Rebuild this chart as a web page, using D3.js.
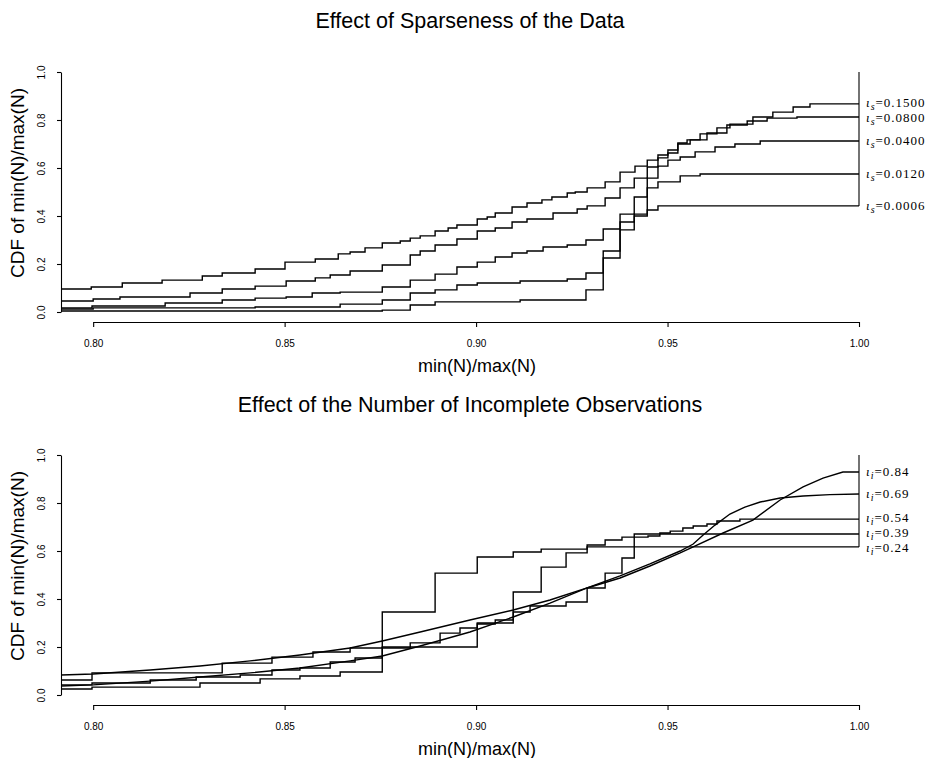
<!DOCTYPE html>
<html>
<head>
<meta charset="utf-8">
<script src="https://cdn.jsdelivr.net/npm/d3@7"></script>
<style>
  body{margin:0;background:#fff;}
  text{font-family:"Liberation Sans",Arial,Helvetica,sans-serif;fill:#000;}
  .lab{font-family:"Liberation Serif","Times New Roman",serif;}
</style>
</head>
<body>
<script>
// ticks
const xTicks=[0.80,0.85,0.90,0.95,1.00];
const yTicks=[0.0,0.2,0.4,0.6,0.8,1.0];

// painel de cima: ι_s (pares [min/max, CDF])
const sparse1500=[[0.7916,0.096],[0.7995,0.104],[0.8076,0.121],[0.8180,0.133],[0.8285,0.150],[0.8337,0.1625],[0.8423,0.179],[0.8501,0.208],[0.8580,0.221],[0.8640,0.242],[0.8671,0.25],[0.8710,0.267],[0.8755,0.2875],[0.8802,0.296],[0.8828,0.308],[0.8854,0.317],[0.8893,0.3375],[0.8927,0.35],[0.8950,0.3625],[0.9003,0.3875],[0.9029,0.396],[0.9050,0.4125],[0.9094,0.4375],[0.9133,0.454],[0.9172,0.467],[0.9198,0.479],[0.9238,0.496],[0.9259,0.50],[0.9290,0.517],[0.9337,0.542],[0.9376,0.583],[0.9415,0.608],[0.9447,0.633],[0.9475,0.654],[0.9501,0.675],[0.9527,0.704],[0.9551,0.717],[0.9585,0.742],[0.9629,0.767],[0.9663,0.783],[0.9723,0.8125],[0.9775,0.833],[0.9828,0.854],[0.9872,0.867],[1.0,0.867]];
const sparse0800=[[0.7916,0.046],[0.8000,0.054],[0.8070,0.0625],[0.8253,0.079],[0.8337,0.096],[0.8423,0.108],[0.8504,0.129],[0.8580,0.142],[0.8619,0.154],[0.8671,0.171],[0.8755,0.196],[0.8828,0.2375],[0.8854,0.254],[0.8893,0.279],[0.8950,0.304],[0.9003,0.3375],[0.9050,0.35],[0.9094,0.375],[0.9133,0.3875],[0.9201,0.4125],[0.9264,0.429],[0.9290,0.442],[0.9337,0.475],[0.9376,0.517],[0.9413,0.558],[0.9447,0.604],[0.9475,0.642],[0.9501,0.6625],[0.9527,0.70],[0.9559,0.717],[0.9603,0.746],[0.9655,0.779],[0.9708,0.796],[0.9760,0.808],[0.9838,0.8125],[1.0,0.8125]];
const sparse0400=[[0.7916,0.017],[0.7997,0.025],[0.8188,0.0375],[0.8337,0.05],[0.8423,0.058],[0.8504,0.0625],[0.8572,0.079],[0.8645,0.083],[0.8755,0.104],[0.8828,0.133],[0.8893,0.158],[0.8950,0.1875],[0.9003,0.208],[0.9050,0.229],[0.9094,0.246],[0.9133,0.254],[0.9175,0.271],[0.9238,0.279],[0.9287,0.30],[0.9332,0.346],[0.9376,0.408],[0.9413,0.479],[0.9447,0.558],[0.9475,0.608],[0.9501,0.633],[0.9533,0.646],[0.9572,0.667],[0.9624,0.6875],[0.9676,0.70],[0.9742,0.7125],[1.0,0.7125]];
const sparse0120=[[0.7916,0.0125],[0.8000,0.017],[0.8423,0.021],[0.8645,0.033],[0.8755,0.05],[0.8828,0.079],[0.8893,0.092],[0.8950,0.1125],[0.9003,0.121],[0.9115,0.129],[0.9238,0.1375],[0.9287,0.1625],[0.9332,0.254],[0.9376,0.375],[0.9413,0.40],[0.9447,0.517],[0.9475,0.542],[0.9533,0.567],[0.9585,0.575],[1.0,0.575]];
const sparse0006=[[0.7916,0.004],[0.8755,0.008],[0.8828,0.029],[0.8893,0.042],[0.9115,0.05],[0.9287,0.092],[0.9332,0.225],[0.9376,0.342],[0.9413,0.408],[0.9447,0.425],[0.9475,0.442],[1.0,0.442]];
const sparseSeries=[sparse1500,sparse0800,sparse0400,sparse0120,sparse0006];
const sparseLabels=["0.1500","0.0800","0.0400","0.0120","0.0006"];

// painel de baixo: ι_i
const obs84=[[0.7916,0.0375],[0.8000,0.042],[0.8149,0.058],[0.8279,0.075],[0.8410,0.092],[0.8540,0.1125],[0.8671,0.142],[0.8755,0.1625],[0.8854,0.204],[0.8984,0.2625],[0.9097,0.325],[0.9193,0.383],[0.9290,0.446],[0.9376,0.4875],[0.9454,0.5375],[0.9533,0.592],[0.9567,0.617],[0.9645,0.675],[0.9723,0.729],[0.9794,0.8125],[0.9854,0.867],[0.9906,0.904],[0.9958,0.929],[1.0,0.929]];
const obs69=[[0.7916,0.0833],[0.8000,0.0875],[0.8149,0.104],[0.8279,0.121],[0.8410,0.142],[0.8540,0.1667],[0.8671,0.196],[0.8755,0.225],[0.8854,0.2625],[0.8984,0.3125],[0.9097,0.354],[0.9193,0.396],[0.9290,0.446],[0.9376,0.496],[0.9454,0.546],[0.9533,0.60],[0.9567,0.629],[0.9593,0.667],[0.9624,0.708],[0.9663,0.754],[0.9702,0.783],[0.9742,0.804],[0.9794,0.821],[0.9854,0.829],[0.9924,0.835],[1.0,0.8375]];
const obs54=[[0.7916,0.0625],[0.7997,0.092],[0.8337,0.133],[0.8467,0.158],[0.8574,0.179],[0.8671,0.196],[0.8755,0.346],[0.8893,0.508],[0.9003,0.575],[0.9097,0.596],[0.9170,0.608],[0.9290,0.625],[0.9337,0.646],[0.9381,0.658],[0.9449,0.6625],[0.9480,0.675],[0.9507,0.683],[0.9540,0.696],[0.9567,0.704],[0.9603,0.7125],[0.9629,0.725],[0.9689,0.733],[1.0,0.733]];
const obs39=[[0.7916,0.042],[0.7997,0.05],[0.8149,0.0625],[0.8269,0.075],[0.8384,0.0833],[0.8467,0.104],[0.8540,0.1125],[0.8619,0.1375],[0.8684,0.154],[0.8755,0.196],[0.8828,0.217],[0.8906,0.258],[0.8958,0.279],[0.9003,0.30],[0.9097,0.346],[0.9141,0.371],[0.9235,0.3875],[0.9290,0.446],[0.9337,0.508],[0.9381,0.571],[0.9413,0.671],[1.0,0.671]];
const obs24=[[0.7916,0.025],[0.7997,0.033],[0.8279,0.05],[0.8436,0.067],[0.8540,0.079],[0.8645,0.096],[0.8755,0.20],[0.9003,0.296],[0.9050,0.3125],[0.9097,0.429],[0.9170,0.533],[0.9235,0.592],[0.9290,0.617],[1.0,0.617]];
const obsSeries=[obs84,obs69,obs54,obs39,obs24];
const obsLabels=["0.84","0.69","0.54","0.39","0.24"];

const svg=d3.select("body").append("svg")
  .attr("width",939).attr("height",758);

const x=d3.scaleLinear().domain([0.7916,1.0]).range([61,859]);

function painel(cfg){
  const y=d3.scaleLinear().domain([0,1]).range([cfg.base,cfg.base-240]);
  const g=svg.append("g");

  g.append("text").attr("x",470).attr("y",cfg.titleY)
    .attr("text-anchor","middle").style("font-size","21.5px").text(cfg.title);

  // eixo x so de 0.80 a 1.00
  const xa=x.copy().domain([0.8,1.0]).range([x(0.8),x(1.0)]);
  const gx=g.append("g").attr("transform","translate(0,"+(cfg.base+10)+")")
    .call(d3.axisBottom(xa).tickValues(xTicks).tickFormat(d3.format(".2f"))
      .tickSize(5).tickSizeOuter(0).tickPadding(13));
  gx.selectAll("text").style("font-size","10px").style("font-family","'Liberation Sans',Arial,sans-serif");

  const gy=g.append("g").attr("transform","translate(61,0)")
    .call(d3.axisLeft(y).tickValues(yTicks).tickFormat(d3.format(".1f"))
      .tickSize(4).tickSizeOuter(0));
  gy.selectAll("text")
    .attr("x",0).attr("dy",0).attr("y",0)
    .attr("text-anchor","middle")
    .attr("transform","translate(-16,0) rotate(-90)")
    .style("font-size","10px").style("font-family","'Liberation Sans',Arial,sans-serif");
  g.selectAll(".domain,.tick line").attr("stroke","#000").attr("stroke-width",1.1);

  g.append("text").attr("transform","translate(17,"+(cfg.base-129)+") rotate(-90)")
    .attr("text-anchor","middle").attr("dy","0.35em").style("font-size","19px")
    .text("CDF of min(N)/max(N)");
  g.append("text").attr("x",477).attr("y",cfg.base+60)
    .attr("text-anchor","middle").style("font-size","18px").text("min(N)/max(N)");

  // curvas
  cfg.series.forEach((s,i)=>{
    const curva=(cfg.suave && cfg.suave[i]) ? d3.curveLinear : d3.curveStepAfter;
    const linha=d3.line().x(d=>x(d[0])).y(d=>y(d[1])).curve(curva);
    g.append("path").datum(s).attr("d",linha)
      .attr("fill","none").attr("stroke","#000").attr("stroke-width",1.4);
  });

  // linha vertical em x=1
  const fins=cfg.series.map(s=>s[s.length-1][1]);
  g.append("line").attr("x1",x(1)).attr("x2",x(1))
    .attr("y1",y(1)).attr("y2",y(d3.min(fins)))
    .attr("stroke","#000").attr("stroke-width",1.1);

  // rotulos: posicao ideal no fim da curva, depois afasta os vizinhos
  const ly=fins.map(f=>y(f)+4);
  const gap=15;
  for(let k=0;k<60;k++){
    for(let i=1;i<ly.length;i++){
      const d=ly[i]-ly[i-1];
      if(d<gap){ ly[i-1]-=(gap-d)/2; ly[i]+=(gap-d)/2; }
    }
  }
  cfg.series.forEach((s,i)=>{
    const t=g.append("text").attr("class","lab").attr("x",x(1)+7).attr("y",ly[i])
      .style("font-size","13px").style("letter-spacing","1px");
    t.append("tspan").style("font-style","italic").text("\u03b9");
    t.append("tspan").attr("dy",3).style("font-size","10px").style("font-style","italic").text(cfg.sub);
    t.append("tspan").attr("dy",-3).text("=" + cfg.labels[i]);
  });
}

painel({base:312,titleY:28,title:"Effect of Sparseness of the Data",
  series:sparseSeries,labels:sparseLabels,sub:"s"});
painel({base:695,titleY:412,title:"Effect of the Number of Incomplete Observations",
  series:obsSeries,labels:obsLabels,sub:"i",suave:[true,true,false,false,false]});
</script>
</body>
</html>
